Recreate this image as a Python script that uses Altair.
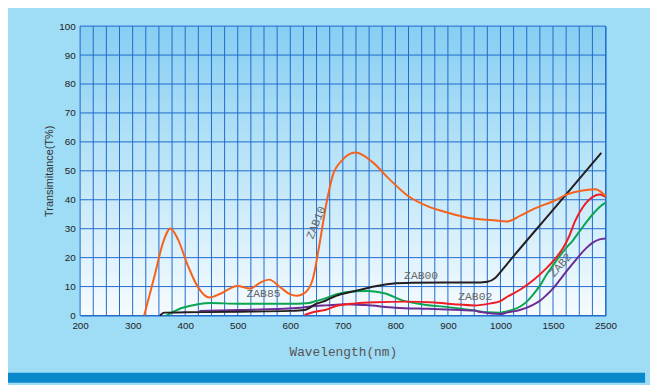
import altair as alt
import pandas as pd

# ---------------- data ----------------
wl_zab10 = [322, 342, 358, 372, 386, 405, 424, 446, 468, 499, 524, 543, 560, 580, 599, 612, 630, 643, 655, 668,
            681, 699, 724, 756, 787, 825, 862, 900, 937, 988, 1063, 1190, 1314, 1566, 1754, 1880, 2130, 2300, 2400, 2500]
t_zab10 = [0, 13.9, 25.3, 30.1, 26.4, 17.3, 9.9, 6.2, 7.6, 10.2, 9.3, 11.4, 12.4, 9.9, 7.4, 6.8, 8.2, 12.7, 24.0, 38.0,
           48.5, 53.7, 56.3, 53.1, 47.4, 41.2, 37.7, 35.5, 33.8, 32.9, 32.5, 34.5, 36.8, 40.0, 41.8, 42.5, 43.4, 43.6, 42.9, 41.3]

wl_zab00 = [352, 360, 400, 500, 600, 627, 649, 668, 687, 724, 762, 793, 831, 894, 950, 975, 990, 1000, 1063, 1500, 2420]
t_zab00 = [0, 1.0, 1.1, 1.3, 1.6, 1.9, 4.0, 5.2, 6.8, 8.5, 10.1, 11.0, 11.3, 11.4, 11.4, 11.7, 13.0, 15.0, 17.8, 36.5, 56.2]

wl_green = [364, 380, 392, 410, 424, 449, 500, 612, 635, 649, 668, 687, 724, 749, 781, 812, 850, 900, 944, 975,
            1000, 1060, 1126, 1192, 1250, 1314, 1380, 1436, 1502, 1630, 1744, 1880, 2010, 2128, 2256, 2387, 2500]
t_green = [0, 1.5, 2.5, 3.4, 3.9, 4.3, 4.1, 4.1, 4.3, 5.0, 6.0, 7.3, 8.4, 8.5, 7.6, 5.3, 3.9, 2.9, 1.9, 1.1,
           1.0, 1.4, 2.1, 3.2, 4.8, 7.4, 10.6, 14.0, 17.4, 20.6, 23.2, 26.0, 29.2, 32.1, 35.0, 37.5, 39.0]

wl_zab02 = [627, 649, 668, 687, 724, 762, 818, 875, 912, 950, 981, 1000, 1060, 1190, 1314, 1436, 1560, 1692,
            1805, 1917, 2067, 2256, 2387, 2500]
t_zab02 = [0.2, 1.4, 2.0, 3.3, 4.2, 4.6, 4.8, 4.5, 3.9, 3.5, 4.2, 5.0, 6.4, 9.0, 12.3, 16.3, 20.0, 23.3,
           27.3, 32.5, 37.4, 41.0, 41.8, 41.0]

wl_zab2 = [427, 500, 612, 649, 668, 706, 743, 800, 862, 925, 950, 963, 1000, 1060, 1192, 1314, 1380, 1436, 1502,
           1630, 1744, 1880, 2010, 2128, 2256, 2387, 2500]
t_zab2 = [1.6, 1.9, 2.6, 3.3, 3.5, 3.9, 3.6, 2.7, 2.3, 1.9, 1.7, 1.2, 0.5, 1.0, 2.0, 3.8, 5.2, 7.0, 9.4,
          12.3, 15.0, 18.0, 20.9, 23.2, 25.2, 26.3, 26.6]

series_names = ["green", "purple", "red", "black", "orange"]
series_colors = ["#0aa550", "#6b2d94", "#ee1d25", "#231f20", "#f5621e"]

label_text = ["ZAB10", "ZAB85", "ZAB00", "ZAB02", "ZAB2"]
label_wl = [650, 549, 849, 952, 1648]
label_t = [32.0, 7.3, 13.7, 6.3, 17.3]
label_angle = [292, 0, 0, 0, 312]

x_label_values = [200, 300, 400, 500, 600, 700, 800, 900, 1000, 1500, 2500]
x_grid_values = list(range(200, 1001, 25)) + [1125, 1250, 1375, 1500, 1750, 2000, 2250, 2500]
y_values = list(range(0, 101, 10))

# ---------------- tables ----------------
rows = []
for name, wls, ts in [("green", wl_green, t_green), ("purple", wl_zab2, t_zab2), ("red", wl_zab02, t_zab02),
                      ("black", wl_zab00, t_zab00), ("orange", wl_zab10, t_zab10)]:
    for w, t in zip(wls, ts):
        rows.append({"series": name, "wl": w, "t": t})
curves = pd.DataFrame(rows)
labels = pd.DataFrame({"text": label_text, "wl": label_wl, "t": label_t, "ang": label_angle})

W, H = 532, 293
grid_color = "#1e6acd"

xscale = alt.Scale(domain=[200, 1000, 1500, 2500], range=[0, W * 0.8, W * 0.9, W])
yscale = alt.Scale(domain=[0, 100], nice=False, zero=False)

xaxis = alt.Axis(values=x_label_values, format="d", grid=False, ticks=False, domain=False, labelOverlap=False,
                 labelFlush=False, labelPadding=5, title="Wavelength(nm)", titleFont="Liberation Mono",
                 titleFontSize=13, titleFontWeight="normal", titleColor="#555555", titlePadding=15)
yaxis = alt.Axis(values=y_values, grid=False, ticks=False, domain=False, labelPadding=5,
                 title="Transimitance(T%)", titleFont="Liberation Sans", titleFontSize=11,
                 titleFontWeight="normal", titleColor="#333333", titlePadding=4)

X = alt.X("wl:Q", scale=xscale, axis=xaxis)
Y = alt.Y("t:Q", scale=yscale, axis=yaxis)

gradient = alt.LinearGradient(
    gradient="linear", x1=0, x2=0, y1=0, y2=1,
    stops=[alt.GradientStop(color="#86cef2", offset=0),
           alt.GradientStop(color="#c4e8f9", offset=0.55),
           alt.GradientStop(color="#f6fbfe", offset=1)])

bg = alt.Chart(alt.Data(values=[{}])).mark_rect(color=gradient).encode(
    x=alt.value(0), x2=alt.value("width"), y=alt.value(0), y2=alt.value("height"))

vgrid = alt.Chart(pd.DataFrame({"wl": x_grid_values})).mark_rule(color=grid_color, strokeWidth=1).encode(x=X)
hgrid = alt.Chart(pd.DataFrame({"t": y_values})).mark_rule(color=grid_color, strokeWidth=1).encode(y=Y)

lines = alt.Chart(curves).mark_line(strokeWidth=2, interpolate="monotone").encode(
    x=X, y=Y,
    color=alt.Color("series:N", scale=alt.Scale(domain=series_names, range=series_colors), legend=None),
    order=alt.Order("wl:Q"))

text_flat = alt.Chart(labels[labels["ang"] == 0]).mark_text(
    font="Liberation Mono", fontSize=11.5, color="#666666").encode(x=X, y=Y, text="text:N")
text_a = alt.Chart(labels[labels["text"] == "ZAB10"]).mark_text(
    font="Liberation Mono", fontSize=11.5, color="#666666", angle=292).encode(x=X, y=Y, text="text:N")
text_b = alt.Chart(labels[labels["text"] == "ZAB2"]).mark_text(
    font="Liberation Mono", fontSize=11.5, color="#666666", angle=312).encode(x=X, y=Y, text="text:N")

stripe = alt.Chart(alt.Data(values=[{}])).mark_rect(color="#0a88cc").encode(
    x=alt.value(-73), x2=alt.value(572), y=alt.value(351), y2=alt.value(361))

chart = alt.layer(bg, vgrid, hgrid, lines, text_flat, text_a, text_b, stripe).properties(
    width=W, height=H,
    padding={"left": 73, "top": 16, "right": 45, "bottom": 68},
    autosize=alt.AutoSizeParams(type="none"),
    background="#9fdcf6",
).configure_view(stroke=grid_color, strokeWidth=1).configure_axis(
    labelFont="Liberation Sans", labelFontSize=10, labelColor="#222222")

chart.save("out.html", embed_options={"renderer": "svg", "actions": False})
